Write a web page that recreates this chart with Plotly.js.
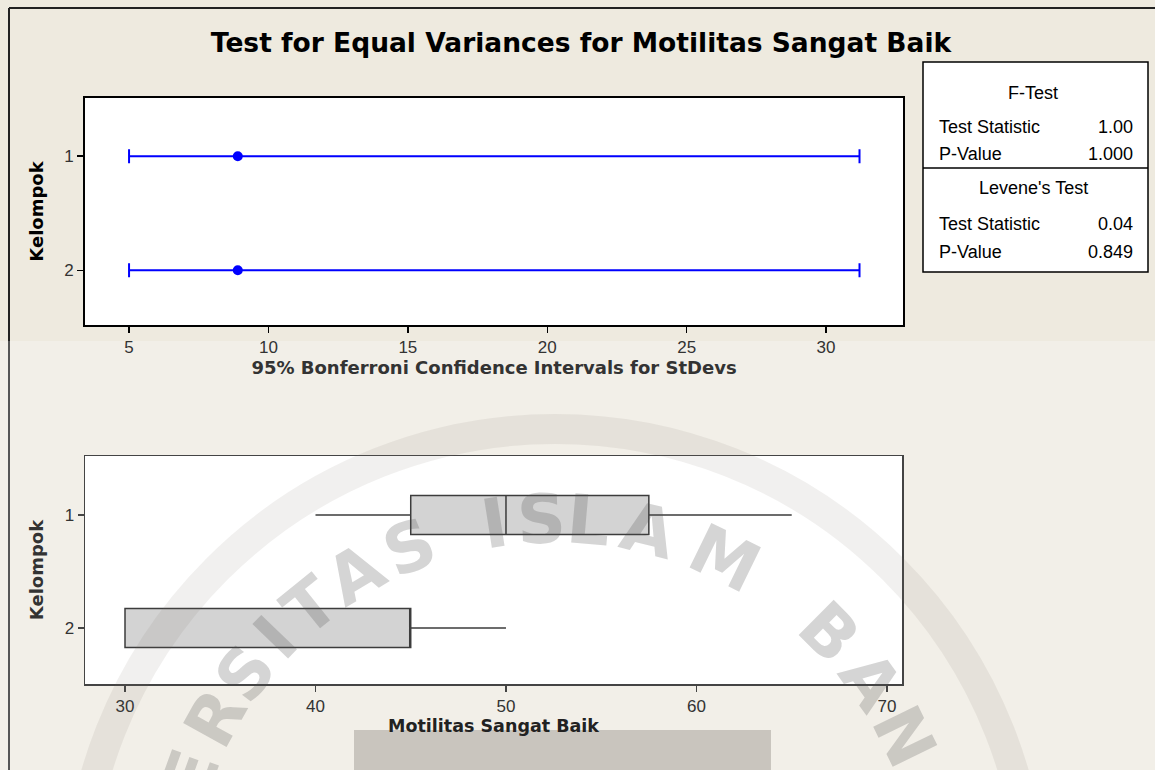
<!DOCTYPE html>
<html><head><meta charset="utf-8">
<script src="https://cdn.plot.ly/plotly-3.0.1.min.js"></script>
<style>html,body{margin:0;padding:0;background:#f2efe8}</style>
</head><body><div id="chart" style="width:1155px;height:770px"></div>
<script>
// ---- data ----
const groups = [1, 2];
const groupLabels = ['1', '2'];
const stdevs = [8.9, 8.9];
const ciLower = [5.0, 5.0];
const ciUpper = [31.2, 31.2];
const boxMin = [40, 30];
const boxQ1 = [45, 30];
const boxMedian = [50, 45];
const boxQ3 = [57.5, 45];
const boxMax = [65, 50];
const ciTicks = [5, 10, 15, 20, 25, 30];
const boxTicks = [30, 40, 50, 60, 70];
const fTestRows = [['Test Statistic', '1.00'], ['P-Value', '1.000']];
const leveneRows = [['Test Statistic', '0.04'], ['P-Value', '0.849']];
const watermarkLetters = 'ERSITASISLAMBAN'.split('');
const watermarkAngles = [160,151,143,136,129,121,112, 99,92,85,76,64, 45,35.5,26];

// ---- helpers (pixel -> paper) ----
const W = 1155, H = 770;
const px = x => x / W;
const py = y => 1 - y / H;

const tickFont = {family: 'Liberation Sans, Arial, sans-serif', size: 17, color: '#333'};
const titleFamily = 'DejaVu Sans, Verdana, sans-serif';

const traces = [
  {
    type: 'scatter', mode: 'markers', x: stdevs, y: groups, xaxis: 'x', yaxis: 'y',
    marker: {color: '#0000ff', size: 10},
    error_x: {type: 'data', symmetric: false,
      array: ciUpper.map((u, i) => u - stdevs[i]),
      arrayminus: ciLower.map((l, i) => stdevs[i] - l),
      color: '#0000ff', thickness: 2, width: 7},
    showlegend: false, hoverinfo: 'x+y'
  },
  {
    type: 'box', orientation: 'h', y: groups, xaxis: 'x2', yaxis: 'y2',
    q1: boxQ1, median: boxMedian, q3: boxQ3, lowerfence: boxMin, upperfence: boxMax,
    fillcolor: '#d3d3d3', line: {color: '#3c3c3c', width: 1.5},
    whiskerwidth: 0, width: 0.345, boxpoints: false, showlegend: false
  }
];

const axisCommon = {
  ticks: 'outside', ticklen: 6, tickwidth: 1.5, showline: true, mirror: true,
  showgrid: false, zeroline: false, tickfont: tickFont
};

const tblFont = {family:'Liberation Sans, Arial', size:18, color:'#000'};
const annotations = [];
annotations.push({xref:'paper', yref:'paper', x: px(1033), y: py(93), text: 'F-Test', showarrow:false, xanchor:'center', yanchor:'middle', font: tblFont});
fTestRows.forEach((r, i) => {
  const yy = py(127 + i * 27);
  annotations.push({xref:'paper', yref:'paper', x: px(937), y: yy, text: r[0], showarrow:false, xanchor:'left', yanchor:'middle', font: tblFont});
  annotations.push({xref:'paper', yref:'paper', x: px(1135), y: yy, text: r[1], showarrow:false, xanchor:'right', yanchor:'middle', font: tblFont});
});
annotations.push({xref:'paper', yref:'paper', x: px(1033), y: py(188), text: "Levene's Test", showarrow:false, xanchor:'center', yanchor:'middle', font: tblFont});
leveneRows.forEach((r, i) => {
  const yy = py(224 + i * 28);
  annotations.push({xref:'paper', yref:'paper', x: px(937), y: yy, text: r[0], showarrow:false, xanchor:'left', yanchor:'middle', font: tblFont});
  annotations.push({xref:'paper', yref:'paper', x: px(1135), y: yy, text: r[1], showarrow:false, xanchor:'right', yanchor:'middle', font: tblFont});
});
// watermark letters along an arc
const cx = 555, cy = 907, rr = 388;
watermarkLetters.forEach((ch, i) => {
  const a = watermarkAngles[i] * Math.PI / 180;
  const x = cx + rr * Math.cos(a), y = cy - rr * Math.sin(a);
  annotations.push({xref:'paper', yref:'paper', x: px(x), y: py(y), text: ch, showarrow:false,
    xanchor:'center', yanchor:'middle', textangle: 90 - watermarkAngles[i],
    font:{family:'DejaVu Sans, Verdana, sans-serif', size:68, color:'rgba(80,80,80,0.24)', weight:700}});
});

const shapes = [
  // top beige band
  {type:'rect', xref:'paper', yref:'paper', x0:0, x1:1, y0:py(341), y1:1, fillcolor:'#eeeadf', line:{width:0}, layer:'below'},
  // white plot area of the top panel
  {type:'rect', xref:'paper', yref:'paper', x0:px(85), x1:px(903), y0:py(325), y1:py(98), fillcolor:'#ffffff', line:{width:0}, layer:'below'},
  // outer frame
  {type:'line', xref:'paper', yref:'paper', x0:px(9), x1:px(9), y0:py(8), y1:py(341), line:{color:'#222', width:2}},
  {type:'line', xref:'paper', yref:'paper', x0:px(9), x1:px(9), y0:py(341), y1:0, line:{color:'#555', width:2}},
  {type:'line', xref:'paper', yref:'paper', x0:px(9), x1:1, y0:py(8), y1:py(8), line:{color:'#222', width:2}},
  // watermark ring
  {type:'circle', xref:'paper', yref:'paper', x0:px(cx-478), x1:px(cx+478), y0:py(cy+478), y1:py(cy-478), line:{color:'rgba(120,110,100,0.1)', width:30}, layer:'above'},
  // grey block at bottom
  {type:'rect', xref:'paper', yref:'paper', x0:px(354), x1:px(771), y0:0, y1:py(730), fillcolor:'#c9c5be', line:{width:0}, layer:'above'},
  // stats table
  {type:'rect', xref:'paper', yref:'paper', x0:px(923), x1:px(1148), y0:py(272), y1:py(62), fillcolor:'#ffffff', line:{color:'#000', width:1.5}, layer:'above'},
  {type:'line', xref:'paper', yref:'paper', x0:px(923), x1:px(1148), y0:py(168), y1:py(168), line:{color:'#000', width:1.5}, layer:'above'}
];

const layout = {
  width: W, height: H,
  margin: {l:0, r:0, t:0, b:0},
  paper_bgcolor: '#f2efe8', plot_bgcolor: '#ffffff',
  showlegend: false,
  title: {text: 'Test for Equal Variances for Motilitas Sangat Baik', x: px(581), xanchor:'center', y: py(43), yanchor:'middle',
    font: {family: titleFamily, size:26.5, color:'#000', weight:700}},
  xaxis: Object.assign({}, axisCommon, {domain:[px(85), px(903)], anchor:'y', range:[3.42, 32.76], tickvals: ciTicks,
    linecolor:'#000', linewidth:2, tickcolor:'#000',
    title:{text:'95% Bonferroni Confidence Intervals for StDevs', font:{family:titleFamily, size:18, color:'#333', weight:700}, standoff: 4}}),
  yaxis: Object.assign({}, axisCommon, {domain:[py(325), py(98)], anchor:'x', range:[2.48, 0.49], tickvals: groups, ticktext: groupLabels,
    linecolor:'#000', linewidth:2, tickcolor:'#000',
    title:{text:'Kelompok', font:{family:titleFamily, size:18, color:'#000', weight:700}, standoff: 16}}),
  xaxis2: Object.assign({}, axisCommon, {domain:[px(85), px(902)], anchor:'y2', range:[27.9, 70.79], tickvals: boxTicks,
    linecolor:'#444', linewidth:1.5, tickcolor:'#444',
    title:{text:'Motilitas Sangat Baik', font:{family:titleFamily, size:17.5, color:'#222', weight:700}, standoff: 4}}),
  yaxis2: Object.assign({}, axisCommon, {domain:[py(684), py(456)], anchor:'x2', range:[2.496, 0.478], tickvals: groups, ticktext: groupLabels,
    linecolor:'#444', linewidth:1.5, tickcolor:'#444',
    title:{text:'Kelompok', font:{family:titleFamily, size:18, color:'#333', weight:700}, standoff: 16}}),
  shapes: shapes,
  annotations: annotations
};

Plotly.newPlot('chart', traces, layout, {staticPlot: true});
</script></body></html>
